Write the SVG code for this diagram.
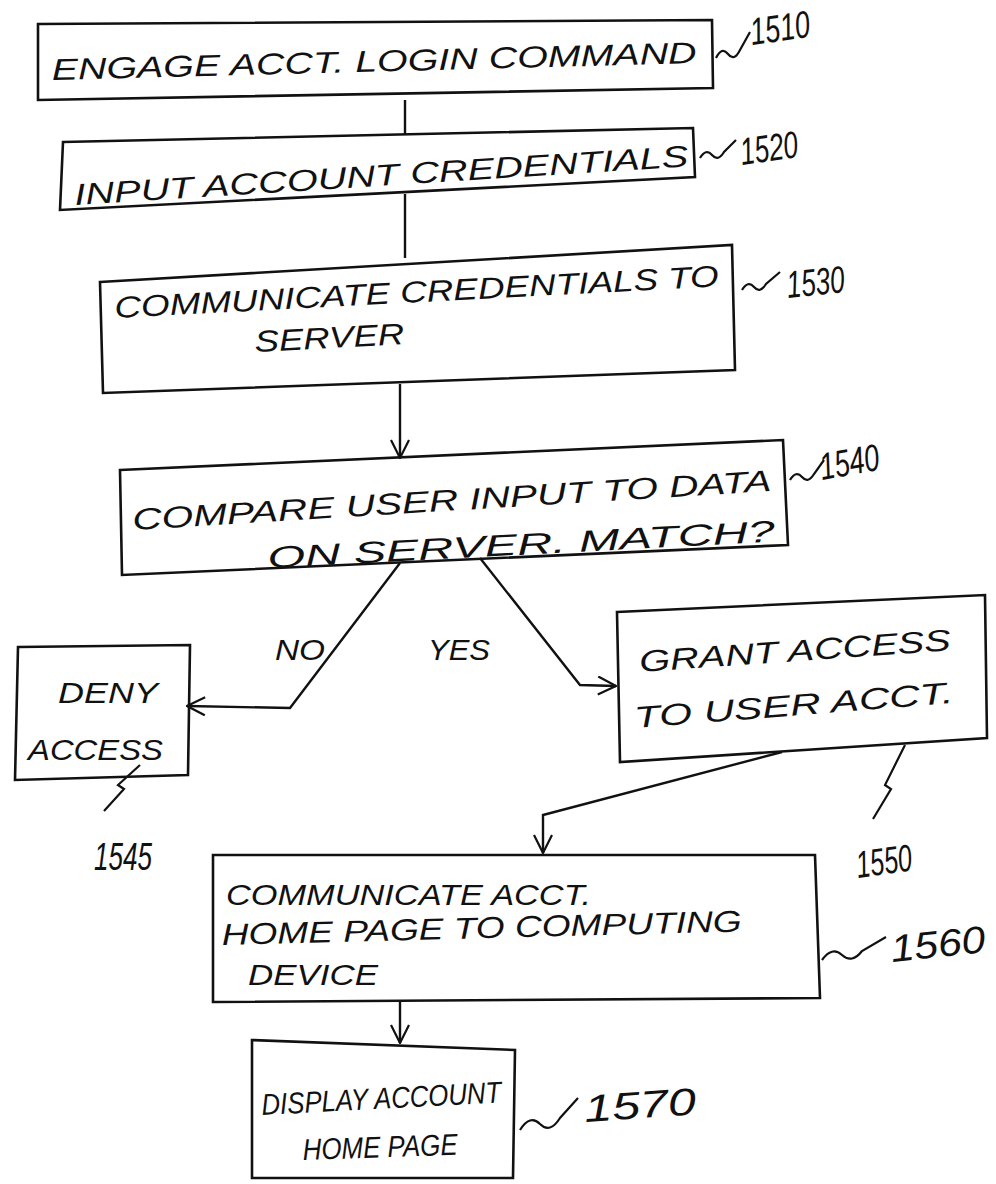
<svg xmlns="http://www.w3.org/2000/svg" width="996" height="1184" viewBox="0 0 996 1184">
<style>
.box{fill:none;stroke:#111;stroke-width:2.6;stroke-linejoin:miter}
.t{font-family:"Liberation Sans",Arial,sans-serif;font-style:italic;fill:#111;font-size:30px}
.ref{font-family:"Liberation Sans",Arial,sans-serif;font-style:italic;fill:#111;font-size:38px}
.sq{fill:none;stroke:#111;stroke-width:2.2}
.c{fill:none;stroke:#111;stroke-width:2.4}
</style>
<defs>
<marker id="ah" viewBox="0 0 20 20" refX="19" refY="10" markerWidth="20" markerHeight="20" markerUnits="userSpaceOnUse" orient="auto">
<path d="M1,1 L19,10 L1,19" fill="none" stroke="#111" stroke-width="2.2"/>
</marker>
</defs>
<rect width="996" height="1184" fill="#fff"/>
<g id="connectors">
<path class="c" d="M405,100 L405,134"/>
<path class="c" d="M405,194 L405,258"/>
<path class="c" d="M400,384 L400,458" marker-end="url(#ah)"/>
<path class="c" d="M400,563 L290,708 L187,706" marker-end="url(#ah)"/>
<path class="c" d="M480,558 L580,685 L616,686" marker-end="url(#ah)"/>
<path class="c" d="M782,752 L543,815 L543,853" marker-end="url(#ah)"/>
<path class="c" d="M400,1000 L400,1043" marker-end="url(#ah)"/>
<text class="t" x="275" y="660" font-size="38" textLength="50" lengthAdjust="spacingAndGlyphs">NO</text>
<text class="t" x="428" y="660" font-size="38" textLength="62" lengthAdjust="spacingAndGlyphs">YES</text>
</g>
<g id="n1510">
<path class="box" d="M38,24 L712,20 L713,88 L38,100 Z"/>
<text class="t" x="52" y="80" textLength="645" lengthAdjust="spacingAndGlyphs" transform="rotate(-1.5 52 80)">ENGAGE ACCT. LOGIN COMMAND</text>
<path class="sq" d="M716,58 q6,-12 12,-4 q6,8 12,-4 l10,-18"/>
<text class="ref" x="752" y="45" textLength="60" lengthAdjust="spacingAndGlyphs" transform="rotate(-8 752 45)">1510</text>
</g>
<g id="n1520">
<path class="box" d="M63,142 L693,128 L695,177 L60,210 Z"/>
<text class="t" x="75" y="205" textLength="615" lengthAdjust="spacingAndGlyphs" transform="rotate(-3.6 75 205)">INPUT ACCOUNT CREDENTIALS</text>
<path class="sq" d="M700,158 q6,-10 12,-3 q6,7 12,-3 l12,-12"/>
<text class="ref" x="742" y="165" textLength="58" lengthAdjust="spacingAndGlyphs" transform="rotate(-8 742 165)">1520</text>
</g>
<g id="n1530">
<path class="box" d="M100,282 L732,245 L735,370 L103,393 Z"/>
<text class="t" x="115" y="318" textLength="605" lengthAdjust="spacingAndGlyphs" transform="rotate(-3 115 318)">COMMUNICATE CREDENTIALS TO</text>
<text class="t" x="255" y="352" textLength="150" lengthAdjust="spacingAndGlyphs" transform="rotate(-3 255 352)">SERVER</text>
<path class="sq" d="M742,290 q6,-10 12,-3 q6,7 12,-3 l14,-12"/>
<text class="ref" x="788" y="298" textLength="58" lengthAdjust="spacingAndGlyphs" transform="rotate(-6 788 298)">1530</text>
</g>
<g id="n1540">
<path class="box" d="M120,470 L783,440 L788,545 L122,575 Z"/>
<text class="t" x="133" y="530" textLength="640" lengthAdjust="spacingAndGlyphs" transform="rotate(-3.5 133 530)">COMPARE USER INPUT TO DATA</text>
<text class="t" x="268" y="568" textLength="508" lengthAdjust="spacingAndGlyphs" transform="rotate(-3 268 568)">ON SERVER. MATCH?</text>
<path class="sq" d="M790,480 q6,-10 12,-3 q6,7 12,-3 l10,-14"/>
<text class="ref" x="822" y="480" textLength="60" lengthAdjust="spacingAndGlyphs" transform="rotate(-10 822 480)">1540</text>
</g>
<g id="n1545">
<path class="box" d="M18,647 L190,645 L188,775 L15,780 Z"/>
<text class="t" x="58" y="703" font-size="34" textLength="100" lengthAdjust="spacingAndGlyphs">DENY</text>
<text class="t" x="28" y="760" font-size="34" textLength="135" lengthAdjust="spacingAndGlyphs">ACCESS</text>
<path class="sq" d="M140,765 l-22,20 l6,4 l-20,22"/>
<text class="ref" x="94" y="870" textLength="58" lengthAdjust="spacingAndGlyphs">1545</text>
</g>
<g id="n1550">
<path class="box" d="M617,612 L985,595 L987,738 L620,762 Z"/>
<text class="t" x="640" y="672" textLength="312" lengthAdjust="spacingAndGlyphs" transform="rotate(-4 640 672)">GRANT ACCESS</text>
<text class="t" x="635" y="728" textLength="320" lengthAdjust="spacingAndGlyphs" transform="rotate(-4.5 635 728)">TO USER ACCT.</text>
<path class="sq" d="M905,745 l-20,40 l6,4 l-18,30"/>
<text class="ref" x="858" y="878" textLength="56" lengthAdjust="spacingAndGlyphs" transform="rotate(-8 858 878)">1550</text>
</g>
<g id="n1560">
<path class="box" d="M213,855 L815,855 L820,998 L213,1002 Z"/>
<text class="t" x="226" y="905" textLength="365" lengthAdjust="spacingAndGlyphs">COMMUNICATE ACCT.</text>
<text class="t" x="222" y="945" textLength="520" lengthAdjust="spacingAndGlyphs" transform="rotate(-1.5 222 945)">HOME PAGE TO COMPUTING</text>
<text class="t" x="248" y="985" textLength="130" lengthAdjust="spacingAndGlyphs">DEVICE</text>
<path class="sq" d="M822,960 q10,-14 20,-5 q10,9 20,-4 l24,-14"/>
<text class="ref" x="892" y="962" font-size="44" textLength="95" lengthAdjust="spacingAndGlyphs" transform="rotate(-6 892 962)">1560</text>
</g>
<g id="n1570">
<path class="box" d="M252,1040 L515,1050 L513,1178 L252,1178 Z"/>
<text class="t" x="262" y="1115" textLength="240" lengthAdjust="spacingAndGlyphs" transform="rotate(-3 262 1115)">DISPLAY ACCOUNT</text>
<text class="t" x="303" y="1160" textLength="155" lengthAdjust="spacingAndGlyphs" transform="rotate(-2 303 1160)">HOME PAGE</text>
<path class="sq" d="M520,1130 q10,-16 20,-6 q10,10 20,-6 l18,-20"/>
<text class="ref" x="585" y="1122" font-size="50" textLength="112" lengthAdjust="spacingAndGlyphs" transform="rotate(-4 585 1122)">1570</text>
</g>
</svg>
